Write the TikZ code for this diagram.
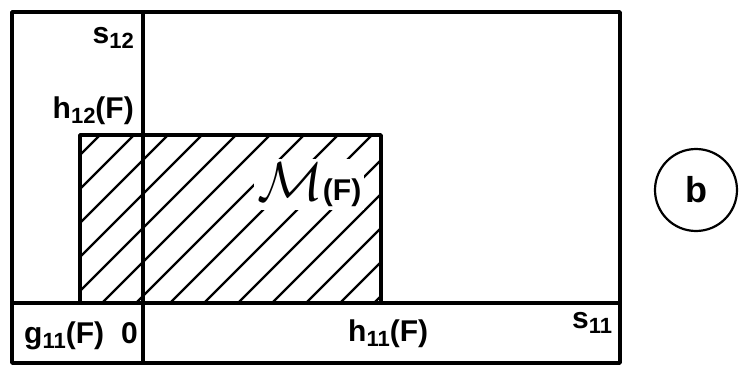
\documentclass[tikz,border=0pt]{standalone}
\usepackage{fontspec}
\setmainfont{Liberation Sans}
\newcommand\lowsub[1]{\raisebox{-0.32ex}{\fontsize{22}{22}\selectfont #1}}
\begin{document}
\begin{tikzpicture}[x=1pt,y=-1pt,
  frame/.style={line width=3.4pt,line join=round,line cap=round},
  hatchline/.style={line width=2.3pt},
  lab/.style={inner sep=0pt,font=\fontsize{30}{30}\selectfont\bfseries}]
\useasboundingbox (0,0) rectangle (740,367);
% hatching
\begin{scope}
\clip (80,135) rectangle (381,303);
\foreach \k in {-8,...,7} {
  \pgfmathsetmacro\cc{473+34*\k}
  \draw[hatchline] (\cc-303,303) -- (\cc-135,135);
}
\end{scope}
% label of set (white background breaks hatch lines)
\node[lab,anchor=base west,fill=white,inner xsep=3pt,inner ysep=4pt] (M) at (254,200)
  {\scalebox{2.2}{$\mathcal{M}$}(F)};
% hatched rectangle border
\draw[frame] (80,303) -- (80,135) -- (381,135) -- (381,303);
% outer box and axes
\draw[frame] (12,12) rectangle (620,363);
\draw[frame] (143,12) -- (143,363);
\draw[frame] (12,303) -- (620,303);
% labels
\node[lab,anchor=base east] (s12) at (134,43) {s\lowsub{12}};
\node[lab,anchor=base east] (h12) at (134,118) {h\lowsub{12}(F)};
\node[lab,anchor=base west] (g11) at (24,343) {g\lowsub{11}(F)};
\node[lab,anchor=base east] (zero) at (138,343) {0};
\node[lab,anchor=base west] (h11) at (348,341) {h\lowsub{11}(F)};
\node[lab,anchor=base west] (s11) at (572,328) {s\lowsub{11}};
% circled b
\node[draw,circle,line width=2.2pt,minimum size=82pt,inner sep=0pt,
  font=\fontsize{36}{36}\selectfont\bfseries] (b) at (696,190) {b};
\end{tikzpicture}
\end{document}
